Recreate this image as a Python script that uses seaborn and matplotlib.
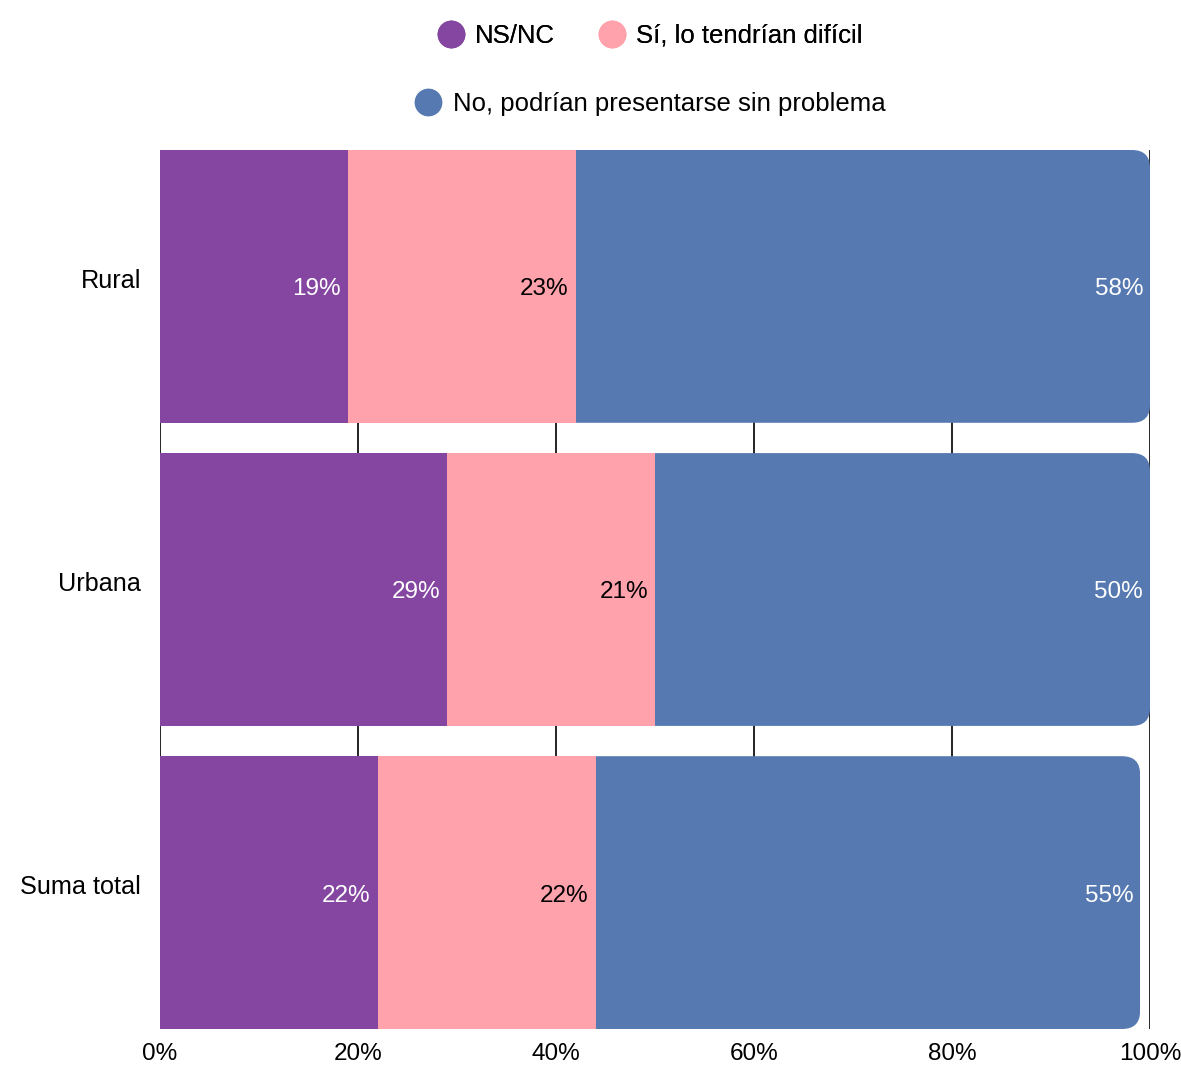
import numpy as np
import pandas as pd
import matplotlib
matplotlib.use("Agg")
import matplotlib.pyplot as plt
import matplotlib.transforms as mtransforms
from matplotlib.lines import Line2D
from matplotlib.patches import FancyBboxPatch
import seaborn as sns

# ---------------------------------------------------------------------------
# Data
# ---------------------------------------------------------------------------
categories = ["Rural", "Urbana", "Suma total"]
series_names = ["NS/NC", "Sí, lo tendrían difícil", "No, podrían presentarse sin problema"]
ns_nc = [19, 29, 22]
dificil = [23, 21, 22]
sin_problema = [58, 50, 55]
x_ticks = [0, 20, 40, 60, 80, 100]
x_tick_labels = ["0%", "20%", "40%", "60%", "80%", "100%"]

colors = ["#8446A0", "#FFA2AC", "#5579B0"]
text_colors = ["white", "black", "white"]

df = pd.DataFrame({
    "cat": categories,
    "ns": ns_nc,
    "dif": dificil,
    "sin": sin_problema,
})
df["cum1"] = df["ns"]
df["cum2"] = df["ns"] + df["dif"]
df["cum3"] = df["ns"] + df["dif"] + df["sin"]

sns.set_style("white")
plt.rcParams["font.family"] = ["Liberation Sans", "DejaVu Sans"]
plt.rcParams["text.color"] = "black"
plt.rcParams["xtick.color"] = "black"
plt.rcParams["ytick.color"] = "black"
FS = 17.5

fig = plt.figure(figsize=(11.81, 10.65), dpi=100)
W, H = 1181, 1065
ax = fig.add_axes([160 / W, 1 - 1029 / H, 990 / W, 879 / H])

# stacked via overlapping cumulative totals, largest first
bar_w = 0.9
for col, color in zip(["cum3", "cum2", "cum1"], colors[::-1]):
    sns.barplot(data=df, y="cat", x=col, color=color, orient="h",
                width=bar_w, saturation=1, ax=ax, zorder=2, linewidth=0)

ax.set_xlim(0, 100)
ax.set_ylim(len(categories) - 1 + bar_w / 2, -bar_w / 2)

# round the right end of the outer (blue) bars
n = len(categories)
blue_patches = ax.patches[:n]
px_x = 990 / 100.0
px_y = 879 / (len(categories) - 1 + bar_w)
radius_px = 18
r_x = radius_px / px_x
aspect = (radius_px / px_y) / r_x
for p in blue_patches:
    x0, y0 = p.get_x(), p.get_y()
    w, h = p.get_width(), p.get_height()
    clip = FancyBboxPatch((x0, y0), w, h,
                          boxstyle=f"round,pad=0,rounding_size={r_x}",
                          mutation_aspect=aspect, transform=ax.transData,
                          facecolor="none", edgecolor="none")
    p.set_clip_path(clip)

# value labels, right-aligned inside each segment
ends = [df["cum1"].values, df["cum2"].values, df["cum3"].values]
vals = [ns_nc, dificil, sin_problema]
for k in range(3):
    for i in range(n):
        ax.text(ends[k][i] - 0.7, i + 3 / px_y, f"{vals[k][i]}%", ha="right", va="center",
                color=text_colors[k], fontsize=FS, zorder=5)

ax.set_xticks(x_ticks)
ax.set_xticklabels(x_tick_labels, fontsize=FS)
ax.tick_params(axis="x", length=0, pad=10)
ax.tick_params(axis="y", length=0, pad=13.5, labelsize=18.2)
ax.set_xlabel("")
ax.set_ylabel("")
ax.grid(axis="x", color="black", linewidth=1.2, zorder=0)
ax.set_axisbelow(True)
for s in ax.spines.values():
    s.set_visible(False)

# category labels sit a little above the bar centre
shift = mtransforms.ScaledTranslation(0, 8 / 100, fig.dpi_scale_trans)
for lab in ax.get_yticklabels():
    lab.set_transform(lab.get_transform() + shift)

# legend in two rows
handles = [Line2D([], [], marker="o", linestyle="none", markersize=19,
                  markerfacecolor=c, markeredgecolor=c) for c in colors]
leg1 = fig.legend(handles[:2], series_names[:2], loc="center", ncol=2,
                  bbox_to_anchor=(649 / W, 1 - 36 / H), frameon=False,
                  fontsize=18.5, handletextpad=0.35, columnspacing=1.6,
                  handlelength=1.2)
leg2 = fig.legend(handles[2:], series_names[2:], loc="center", ncol=1,
                  bbox_to_anchor=(649 / W, 1 - 104 / H), frameon=False,
                  fontsize=18.5, handletextpad=0.35, handlelength=1.2)
fig.add_artist(leg1)

fig.savefig("out.png", dpi=100)
